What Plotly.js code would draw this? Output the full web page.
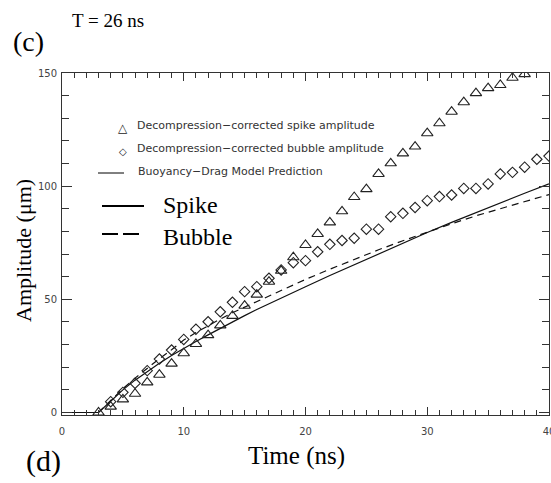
<!DOCTYPE html>
<html>
<head>
<meta charset="utf-8">
<script src="https://cdn.plot.ly/plotly-3.0.1.min.js"></script>
<style>html,body{margin:0;padding:0;background:#fff;overflow:hidden;}#chart{width:551px;height:483px;}</style>
</head>
<body>
<div id="chart"></div>
<script>
// ---- data ----
var spikeTime = [3,4,5,6,7,8,9,10,11,12,13,14,15,16,17,18,19,20,21,22,23,24,25,26,27,28,29,30,31,32,33,34,35,36,37,38];
var spikeAmp  = [0,2.6,5.8,8.3,13.3,16.7,21.6,26.2,30.3,34.2,38.5,42.7,47.2,52.1,57.8,62.6,68.6,74,78.9,84,88.9,95.2,98.7,105.4,110.1,114.5,117.5,123.4,127.8,132.9,137.1,141.1,143.3,144.7,147.9,149.5];

var bubbleTime = [4,5,6,7,8,9,10,11,12,13,14,15,16,17,18,19,20,21,22,23,24,25,26,27,28,29,30,31,32,33,34,35,36,37,38,39,40];
var bubbleAmp  = [4.8,8.9,12.9,18.5,23.6,27.6,32.3,36.8,40.1,44.5,48.7,53.4,55.6,59.3,63,66.2,67.1,71,74.3,76,77,81,81,86.5,88,90.6,93.6,95.4,96.1,99,99,101,105.4,106.1,108.4,111.9,113.3];

var modelTime   = [0,3,4,5,6,7,8,9,10,11,12,13,14,15,16,17,18,20,22,24,26,28,30,32,34,36,38,40];
var spikeModel  = [0,0,5,10,14.3,18.2,21.8,25.2,28.4,31.4,34.3,37.2,40,42.8,45.5,48.1,50.7,55.6,60.5,65.3,70.1,74.9,79.5,84,88.4,92.7,96.9,101];
var bubbleModel = [0,0,5.3,10.5,15.2,19.6,23.8,27.7,32,35.3,38.4,41.3,44.1,46.6,49.1,51.6,54.1,58.8,63.3,67.7,71.9,75.9,79.8,83.4,86.9,90.1,93.2,96.3];

var xTicks = [0,10,20,30,40];
var yTicks = [0,50,100,150];

// ---- layout helpers (pixel -> paper) ----
var L = 62, R = 549, T = 73, B = 415;
function px(x){ return (x - L) / (R - L); }
function py(y){ return (B - y) / (B - T); }

var serif = 'Liberation Serif, Times New Roman, serif';
var sans = 'DejaVu Sans, sans-serif';

var traces = [
  {x: modelTime, y: spikeModel, mode: 'lines', line: {color: '#111', width: 1.2}, hoverinfo: 'skip'},
  {x: modelTime, y: bubbleModel, mode: 'lines', line: {color: '#111', width: 1.2, dash: '7px,5px'}, hoverinfo: 'skip'},
  {x: spikeTime, y: spikeAmp, mode: 'markers', marker: {symbol: 'triangle-up-open', size: 10, color: '#222', line: {width: 1.1, color: '#222'}}},
  {x: bubbleTime, y: bubbleAmp, mode: 'markers', marker: {symbol: 'diamond-open', size: 8, color: '#222', line: {width: 1.1, color: '#222'}}}
];

function ann(text, x, y, size, family, anchor, extra){
  var a = {text: text, xref: 'paper', yref: 'paper', x: px(x), y: py(y), xanchor: anchor || 'center', yanchor: 'middle',
           showarrow: false, font: {family: family, size: size, color: '#000'}};
  if (extra) for (var k in extra) a[k] = extra[k];
  return a;
}

var annotations = [
  ann('T = 26 ns', 108, 20, 19, serif),
  ann('(c)', 28, 41, 28, serif),
  ann('(d)', 43, 461, 30, serif),
  ann('Amplitude (\u03bcm)', 23, 251, 22, serif, 'center', {textangle: -90}),
  ann('Time (ns)', 296, 456, 25, serif),
  ann('\u25b3', 123, 128, 12, sans, 'center', {font: {family: sans, size: 12, color: '#222'}}),
  ann('\u25c7', 123, 151, 10, sans, 'center', {font: {family: sans, size: 10, color: '#222'}}),
  ann('Decompression\u2212corrected spike amplitude', 135, 126, 11, sans, 'left', {font: {family: sans, size: 11, color: '#333'}}),
  ann('Decompression\u2212corrected bubble amplitude', 135, 148, 11, sans, 'left', {font: {family: sans, size: 11, color: '#333'}}),
  ann('Buoyancy\u2212Drag Model Prediction', 136, 171, 11, sans, 'left', {font: {family: sans, size: 11, color: '#333'}}),
  ann('Spike', 161, 205, 24, serif, 'left'),
  ann('Bubble', 161, 237, 24, serif, 'left')
];

function hline(x0, x1, y, w){
  return {type: 'line', xref: 'paper', yref: 'paper', x0: px(x0), x1: px(x1), y0: py(y), y1: py(y), line: {color: '#000', width: w}};
}
var shapes = [
  hline(98, 124, 173, 1),
  hline(102, 144, 206, 2),
  hline(102, 118, 234, 2),
  hline(123, 139, 234, 2)
];

var axisCommon = {
  ticks: 'inside', tickcolor: '#333', showline: true, linecolor: '#333', linewidth: 1,
  mirror: 'ticks', showgrid: false, zeroline: false,
  tickfont: {family: sans, size: 10, color: '#444'}
};

var layout = {
  width: 551, height: 483,
  margin: {l: L, r: 551 - R, t: T, b: 483 - B, pad: 0},
  paper_bgcolor: '#fff', plot_bgcolor: '#fff',
  showlegend: false,
  xaxis: Object.assign({}, axisCommon, {range: [0, 40], tickvals: xTicks, ticktext: xTicks.map(String), ticklen: 8,
    ticklabelstandoff: 7, ticklabeloverflow: 'allow',
    minor: {dtick: 1, ticks: 'inside', ticklen: 5, tickcolor: '#333', showgrid: false}}),
  yaxis: Object.assign({}, axisCommon, {range: [-1.1, 150], tickvals: yTicks, ticktext: yTicks.map(String), ticklen: 10,
    ticklabelstandoff: 2,
    minor: {dtick: 10, ticks: 'inside', ticklen: 7, tickcolor: '#333', showgrid: false}}),
  annotations: annotations,
  shapes: shapes
};

Plotly.newPlot('chart', traces, layout, {displayModeBar: false, staticPlot: true});
</script>
</body>
</html>
